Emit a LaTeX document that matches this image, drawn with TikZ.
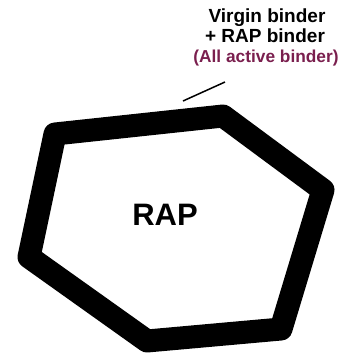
\documentclass[tikz,border=0pt]{standalone}
\usepackage{fontspec}
\setmainfont{Liberation Sans}
\usepackage{tikz}
\usetikzlibrary{positioning,calc}
\definecolor{note}{HTML}{7A1F4E}

\begin{document}
\begin{tikzpicture}[x=1pt,y=-1pt,
  binder/.style={line width=23pt,line join=round,line cap=round},
  lbl/.style={font=\bfseries\fontsize{19}{20}\selectfont,inner sep=0pt,anchor=base}]
\useasboundingbox (0,0) rectangle (339,357);
% RAP particle with binder film
\draw[binder] (55,134)--(223,116)--(323,190)--(281,329)--(147,341)--(29,257)--cycle;
\node[font=\bfseries\fontsize{31}{33}\selectfont,inner sep=0pt] (rap) at (165,215) {RAP};
% label
\node[lbl] (vb) at (267,22) {Virgin binder};
\node[lbl] (rb) at (265,42) {+ RAP binder};
\node[lbl,font=\bfseries\fontsize{17.3}{19}\selectfont,text=note] (act) at (266,62) {(All active binder)};
\coordinate (tail) at (225,82);
\coordinate (tip) at (183,101);
\draw[line width=1.5pt] (tail)--(tip);
\end{tikzpicture}
\end{document}
